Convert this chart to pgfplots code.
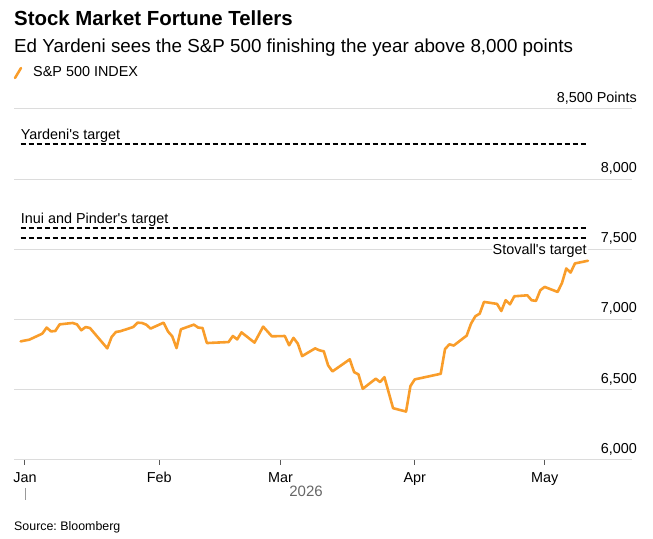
\documentclass[border=0pt]{standalone}
\usepackage{fontspec}
\setmainfont{Liberation Sans}[Ligatures=TeXOff]
\usepackage{pgfplots}
\pgfplotsset{compat=1.18}
\definecolor{spx}{HTML}{F99D2A}
\definecolor{gridc}{HTML}{DCDCDC}
\newcommand{\fs}[1]{\fontsize{#1bp}{#1bp}\selectfont}
\frenchspacing
\begin{document}
\begin{tikzpicture}[x=1bp,y=1bp]
\begin{axis}[
  at={(14bp,79bp)}, anchor=south west, scale only axis,
  width=618bp, height=351bp,
  xmin=-2.54, xmax=140.18, ymin=6000, ymax=8500,
  axis line style={draw=none},
  ytick={6000,6500,7000,7500,8000,8500},
  yticklabels={{6,000},{6,500},{7,000},{7,500},{8,000},{8,500 Points}},
  ymajorgrids, grid style={gridc, line width=1bp},
  ytick style={draw=none},
  yticklabel pos=right,
  yticklabel style={anchor=base east, inner sep=0pt, yshift=6.7bp, font=\fs{14.4}},
  xtick={0,31,59,90,120}, xticklabels={Jan,Feb,Mar,Apr,May},
  xtick pos=bottom, tick align=outside, major tick length=5bp,
  xtick style={draw=black!65, line width=1bp},
  xticklabel style={anchor=base, inner sep=0pt, yshift=-17.5bp, font=\fs{14.4}},
  clip=false,
]
\addplot[black, line width=2bp, dash pattern=on 5bp off 3bp] coordinates {(-1,8250) (130,8250)};
\addplot[black, line width=2bp, dash pattern=on 5bp off 3bp] coordinates {(-1,7650) (130,7650)};
\addplot[black, line width=2bp, dash pattern=on 5bp off 3bp] coordinates {(-1,7580) (130,7580)};
\addplot[spx, line width=2.6bp, line join=round, line cap=round] coordinates {
(-1,6845) (1,6857) (4,6900) (5,6943) (6,6916) (7,6919) (8,6966) (11,6976) (12,6966) (13,6924) (14,6947) (15,6940) (19,6795) (20,6876) (21,6912) (22,6917) (25,6947) (26,6978) (27,6976) (28,6964) (29,6936) (32,6978) (33,6916) (34,6881) (35,6797) (36,6931) (39,6964) (40,6943) (41,6940) (42,6833) (47,6840) (48,6883) (49,6859) (50,6909) (53,6836) (55,6950) (57,6881) (60,6883) (61,6817) (62,6870) (63,6829) (64,6740) (67,6795) (68,6781) (69,6774) (70,6674) (71,6631) (75,6717) (76,6626) (77,6610) (78,6507) (81,6579) (82,6555) (83,6590) (85,6369) (88,6345) (89,6526) (90,6574) (96,6614) (97,6790) (98,6824) (99,6815) (102,6886) (103,6971) (104,7024) (105,7042) (106,7126) (109,7112) (110,7061) (111,7138) (112,7109) (113,7166) (116,7173) (117,7138) (118,7133) (119,7209) (120,7233) (123,7197) (124,7260) (125,7364) (126,7335) (127,7400) (130,7419)
};
\node[anchor=base west, inner sep=0pt, yshift=5bp, font=\fs{14.4}] at (axis cs:-1,8250) {Yardeni's target};
\node[anchor=base west, inner sep=0pt, yshift=5bp, font=\fs{14.4}] at (axis cs:-1,7650) {Inui and Pinder's target};
\node[anchor=base east, inner xsep=1bp, inner ysep=0pt, fill=white, yshift=-15.9bp, font=\fs{14.4}] at (axis cs:130,7580) {Stovall's target};
\end{axis}
\node[anchor=base west, inner sep=0pt] at (14,513) {\fs{20.4}\bfseries Stock Market Fortune Tellers};
\node[anchor=base west, inner sep=0pt] at (14,486) {\fs{18.8}Ed Yardeni sees the S\&P 500 finishing the year above 8,000 points};
\draw[spx, line width=2.5bp, line cap=round] (15,461) -- (21,471);
\node[anchor=base west, inner sep=0pt] at (33,462) {\fs{14.4}S\&P 500 INDEX};
\node[anchor=base, inner sep=0pt, text=black!60] at (306,42.3) {\fs{15}2026};
\draw[black!40, line width=1bp] (25,51) -- (25,39);
\node[anchor=base west, inner sep=0pt] at (14,8) {\fs{12.4}Source: Bloomberg};
\pgfresetboundingbox
\path (0,0) rectangle (653,539);
\end{tikzpicture}
\end{document}
